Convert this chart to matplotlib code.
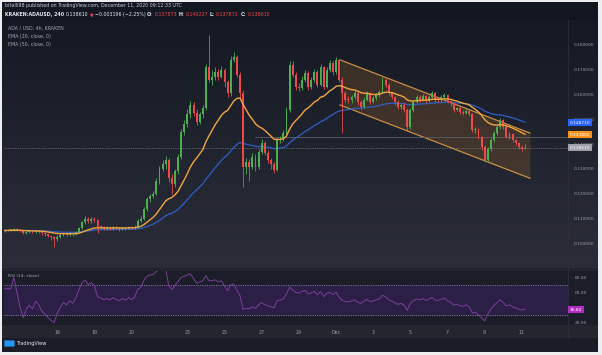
import matplotlib
matplotlib.use("Agg")
import matplotlib.pyplot as plt
import numpy as np
import pandas as pd
from matplotlib.patches import Rectangle, Polygon, FancyBboxPatch

W, H = 602, 355

# ADA/USD 4h candles, Kraken, Nov 13 -> Dec 11 (prices in units of 1e-4)
first_open = 1050
closes = [1052, 1056, 1054, 1058, 1055, 1050, 1042, 1046, 1048, 1045,
          1050, 1047, 1040, 1036, 1030, 1024, 1018, 1026, 1032, 1038,
          1034, 1040, 1036, 1044, 1062, 1085, 1098, 1090, 1100, 1094,
          1068, 1066, 1060, 1064, 1060, 1066, 1062, 1058, 1064, 1060,
          1066, 1062, 1068, 1092, 1100, 1140, 1178, 1190, 1200, 1250,
          1300, 1320, 1336, 1262, 1240, 1290, 1350, 1450, 1480, 1520,
          1560, 1526, 1490, 1520, 1546, 1710, 1660, 1670, 1690, 1672,
          1700, 1650, 1605, 1740, 1752, 1680, 1606, 1308, 1330, 1310,
          1350, 1308, 1370, 1405, 1365, 1336, 1320, 1296, 1417, 1420,
          1445, 1538, 1720, 1680, 1630, 1625, 1660, 1687, 1630, 1660,
          1690, 1640, 1710, 1630, 1700, 1727, 1690, 1740, 1660, 1606,
          1580, 1578, 1590, 1606, 1570, 1550, 1580, 1606, 1570, 1585,
          1598, 1610, 1659, 1640, 1606, 1590, 1570, 1550, 1560, 1538,
          1470, 1538, 1570, 1590, 1580, 1595, 1575, 1590, 1606, 1580,
          1578, 1590, 1598, 1575, 1565, 1538, 1545, 1530, 1526, 1535,
          1520, 1457, 1460, 1430, 1389, 1336, 1380, 1417, 1445, 1470,
          1498, 1470, 1430, 1440, 1415, 1405, 1390, 1378.73, 1386.10]
highs = [1058, 1060, 1060, 1063, 1061, 1058, 1053, 1050, 1053, 1052,
         1055, 1054, 1050, 1044, 1040, 1034, 1030, 1032, 1036, 1042,
         1042, 1046, 1044, 1050, 1068, 1092, 1110, 1106, 1108, 1106,
         1098, 1074, 1070, 1069, 1068, 1070, 1070, 1066, 1068, 1068,
         1071, 1070, 1074, 1100, 1110, 1148, 1186, 1200, 1212, 1262,
         1312, 1336, 1352, 1346, 1280, 1300, 1362, 1460, 1496, 1540,
         1575, 1570, 1540, 1530, 1560, 1725, 1840, 1700, 1712, 1705,
         1715, 1708, 1660, 1755, 1770, 1760, 1690, 1620, 1345, 1340,
         1365, 1360, 1380, 1420, 1412, 1375, 1345, 1330, 1425, 1432,
         1456, 1550, 1735, 1735, 1690, 1645, 1675, 1700, 1695, 1672,
         1705, 1698, 1722, 1715, 1712, 1740, 1735, 1752, 1745, 1672,
         1615, 1595, 1600, 1618, 1612, 1580, 1590, 1615, 1612, 1595,
         1606, 1620, 1672, 1668, 1648, 1612, 1596, 1578, 1568, 1565,
         1545, 1545, 1578, 1600, 1598, 1603, 1600, 1598, 1615, 1610,
         1590, 1598, 1605, 1602, 1580, 1570, 1552, 1550, 1538, 1542,
         1540, 1525, 1470, 1465, 1435, 1395, 1388, 1425, 1452, 1478,
         1505, 1502, 1475, 1448, 1445, 1420, 1410, 1396, 1402.27]
lows = [1046, 1049, 1050, 1051, 1050, 1046, 1036, 1038, 1042, 1040,
        1042, 1043, 1035, 1030, 1024, 1012, 985, 1010, 1020, 1028,
        1028, 1030, 1030, 1032, 1040, 1058, 1080, 1082, 1084, 1086,
        1040, 1058, 1054, 1055, 1054, 1056, 1057, 1052, 1054, 1055,
        1057, 1058, 1058, 1064, 1086, 1096, 1132, 1168, 1182, 1194,
        1240, 1290, 1300, 1248, 1200, 1228, 1280, 1340, 1436, 1470,
        1505, 1515, 1478, 1480, 1505, 1536, 1650, 1640, 1660, 1660,
        1665, 1630, 1590, 1595, 1730, 1670, 1590, 1227, 1280, 1250,
        1300, 1290, 1300, 1360, 1355, 1325, 1300, 1285, 1290, 1405,
        1412, 1440, 1530, 1670, 1620, 1615, 1618, 1650, 1620, 1622,
        1650, 1632, 1635, 1622, 1625, 1690, 1680, 1685, 1650, 1445,
        1570, 1565, 1568, 1582, 1560, 1540, 1545, 1575, 1562, 1565,
        1580, 1592, 1605, 1630, 1598, 1582, 1560, 1542, 1540, 1530,
        1455, 1462, 1530, 1565, 1572, 1575, 1568, 1570, 1585, 1572,
        1570, 1572, 1585, 1568, 1555, 1530, 1532, 1522, 1518, 1520,
        1512, 1448, 1445, 1420, 1375, 1330, 1332, 1372, 1410, 1438,
        1462, 1462, 1425, 1422, 1408, 1396, 1382, 1372, 1378.73]

day_ticks = [17, 29, 41, 59, 71, 83, 95, 107, 119, 131, 143, 155, 167]
day_labels = ['16', '18', '20', '23', '25', '27', '29', 'Dec', '3', '5', '7', '9', '11']
price_ticks = [0.10, 0.11, 0.12, 0.13, 0.14, 0.15, 0.16, 0.17, 0.18]
ema50_last = 0.148710
ema20_last = 0.143800
last_price = 0.138610
rsi_last = 36.82
rsi_ticks = [20, 60, 80]
rsi_bands = [30, 70]

# hand-drawn descending channel and support ray
channel_x = [108.3, 169.6]
channel_top = [0.1740, 0.1445]
channel_bottom = [0.1558, 0.1263]
support_level = 0.1429
support_start = 81

close = np.array(closes) / 1e4
high = np.array(highs) / 1e4
low = np.array(lows) / 1e4
opens = np.concatenate([[first_open / 1e4], close[:-1]])
idx = np.arange(len(close))

s = pd.Series(close)
ema20 = s.ewm(span=20, adjust=False).mean()
ema50 = s.ewm(span=50, adjust=False).mean()
delta = s.diff().fillna(0)
gain = delta.clip(lower=0).ewm(alpha=1 / 14, adjust=False).mean()
loss = (-delta.clip(upper=0)).ewm(alpha=1 / 14, adjust=False).mean()
rsi = 100 - 100 / (1 + gain / loss.replace(0, np.nan))
rsi = rsi.bfill()

UP, DOWN = '#4caf50', '#ef4a4a'
GREY = '#8a8e99'


def rect(x0, y0, x1, y1):
    return [x0 / W, 1 - y1 / H, (x1 - x0) / W, (y1 - y0) / H]


fig = plt.figure(figsize=(W / 100, H / 100), dpi=100, facecolor='#eeeeee')

# backgrounds
bg = fig.add_axes([0, 0, 1, 1])
bg.set_xlim(0, W)
bg.set_ylim(H, 0)
bg.axis('off')
bg.add_patch(Rectangle((2, 2), 596, 350, fc='#131722', ec='none'))
grad = np.linspace(0, 1, 256).reshape(-1, 1)
cmap = matplotlib.colors.LinearSegmentedColormap.from_list('bgg', ['#151924', '#2b2e38'])
bg.imshow(grad, extent=(2, 598, 268, 20), cmap=cmap, aspect='auto', zorder=1)
bg.add_patch(Rectangle((2, 268), 596, 3, fc='#22252f', ec='none', zorder=2))
bg.add_patch(Rectangle((2, 271), 596, 54, fc='#1b1d28', ec='none', zorder=2))
bg.add_patch(Rectangle((2, 325), 596, 13, fc='#23262f', ec='none', zorder=2))
bg.add_patch(Rectangle((2, 338), 596, 14, fc='#1a1d27', ec='none', zorder=2))
bg.plot([568, 568], [20, 338], color='#2c2f3a', lw=0.6, zorder=3)

# main price panel
ax = fig.add_axes(rect(4, 20, 568, 268))
ax.patch.set_alpha(0)
xlim = (-0.2, 181.9)
ax.set_xlim(*xlim)
ax.set_ylim(0.09008, 0.19008)

ax.fill_between(channel_x, channel_bottom, channel_top, color='#b8742a', alpha=0.22, lw=0, zorder=1)
ax.plot(channel_x, channel_top, color='#c98d45', lw=0.9, zorder=2)
ax.plot(channel_x, channel_bottom, color='#c98d45', lw=0.9, zorder=2)

ax.plot([support_start, xlim[1]], [support_level] * 2, color='#5d606b', lw=0.6, zorder=2)
ax.axhline(last_price, color='#9598a1', lw=0.5, ls=(0, (1, 1.5)), zorder=2)

ax.plot(idx, ema50, color='#2f5fc4', lw=0.9, zorder=3)

colors = np.where(close >= opens, UP, DOWN)
body_low = np.minimum(opens, close)
body_h = np.maximum(np.abs(close - opens), 0.0003)
ax.vlines(idx, low, high, colors=colors, lw=0.6, zorder=4)
ax.bar(idx, body_h, bottom=body_low, width=0.62, color=colors, lw=0, zorder=5)

ax.plot(idx, ema20, color='#f0a640', lw=1.0, zorder=6)

ax.set_xticks([])
ax.yaxis.tick_right()
ax.set_yticks(price_ticks)
ax.set_yticklabels([f'{p:.6f}' for p in price_ticks])
ax.tick_params(axis='y', length=0, pad=4.5, labelsize=3.2, labelcolor='#9a9da6')
for sp in ax.spines.values():
    sp.set_visible(False)

ytr = ax.get_yaxis_transform()
for val, fc, tc in [(ema50_last, '#2962ff', 'white'), (ema20_last, '#f7931a', 'white'),
                    (last_price, '#9ea1aa', 'white')]:
    ax.text(1.003, val, f'{val:.6f}', transform=ytr, ha='left', va='center',
            fontsize=3.2, color=tc, zorder=10, clip_on=False,
            bbox=dict(boxstyle='square,pad=0.35', fc=fc, ec='none'))

# RSI panel
rax = fig.add_axes(rect(4, 271, 568, 325))
rax.patch.set_alpha(0)
rax.set_xlim(*xlim)
rax.set_ylim(16.67, 88.67)
rax.axhspan(rsi_bands[0], rsi_bands[1], color='#2c1f45', zorder=0)
for lvl in rsi_bands:
    rax.axhline(lvl, color='#8a8d96', lw=0.6, ls=(0, (1.2, 1.5)), zorder=1)
rax.plot(idx, rsi, color='#7d3d9e', lw=0.7, zorder=2)
rax.yaxis.tick_right()
rax.set_yticks(rsi_ticks)
rax.set_yticklabels([f'{v:.2f}' for v in rsi_ticks])
rax.tick_params(axis='y', length=0, pad=5, labelsize=3.2, labelcolor='#9a9da6')
rax.set_xticks(day_ticks)
rax.set_xticklabels(day_labels)
rax.tick_params(axis='x', length=0, pad=3.5, labelsize=3.4, labelcolor='#9a9da6')
for sp in rax.spines.values():
    sp.set_visible(False)
rax.text(1.003, rsi_last, f'{rsi_last:.2f}', transform=rax.get_yaxis_transform(),
         ha='left', va='center', fontsize=3.2, color='white', clip_on=False,
         bbox=dict(boxstyle='square,pad=0.35', fc='#b02fc0', ec='none'))

# header and legends
renderer = fig.canvas.get_renderer()


def put_seq(x_px, y_px, parts, size):
    x = x_px
    for txt, col, weight in parts:
        t = fig.text(x / W, 1 - y_px / H, txt, color=col, fontsize=size,
                     fontweight=weight, ha='left', va='center')
        x += t.get_window_extent(renderer).width + 1.5


put_seq(5, 6, [('bitelli98 published on TradingView.com, December 11, 2020 09:12:33 UTC', '#c9ccd4', 'normal')], 3.4)
put_seq(5, 14.5, [('KRAKEN:ADAUSD, 240', '#e6e8ee', 'bold'),
                  ('0.138610', '#e6e8ee', 'normal'),
                  ('▼', DOWN, 'normal'),
                  ('−0.003196 (−2.25%)', '#e6e8ee', 'normal'),
                  ('O:', '#e6e8ee', 'bold'), ('0.137873', DOWN, 'normal'),
                  ('H:', '#e6e8ee', 'bold'), ('0.140227', DOWN, 'normal'),
                  ('L:', '#e6e8ee', 'bold'), ('0.137873', DOWN, 'normal'),
                  ('C:', '#e6e8ee', 'bold'), ('0.138610', DOWN, 'normal')], 3.4)

for y_px, txt in [(28, 'ADA / USD, 4h, KRAKEN'), (36.5, 'EMA (20, close, 0)'), (44.5, 'EMA (50, close, 0)')]:
    fig.text(8 / W, 1 - y_px / H, txt, color='#a3a6af', fontsize=3.4, ha='left', va='center')
fig.text(8 / W, 1 - 276 / H, 'RSI (14, close)', color='#a3a6af', fontsize=3.2, ha='left', va='center')

# TradingView logo
bg.add_patch(FancyBboxPatch((5, 341), 9, 5, boxstyle='round,pad=0.6', fc='#2196f3', ec='none', zorder=5))
fig.text(16 / W, 1 - 344 / H, 'TradingView', color='#e6e8ee', fontsize=3.6, ha='left', va='center')

fig.savefig('out.png', dpi=100, facecolor=fig.get_facecolor())
